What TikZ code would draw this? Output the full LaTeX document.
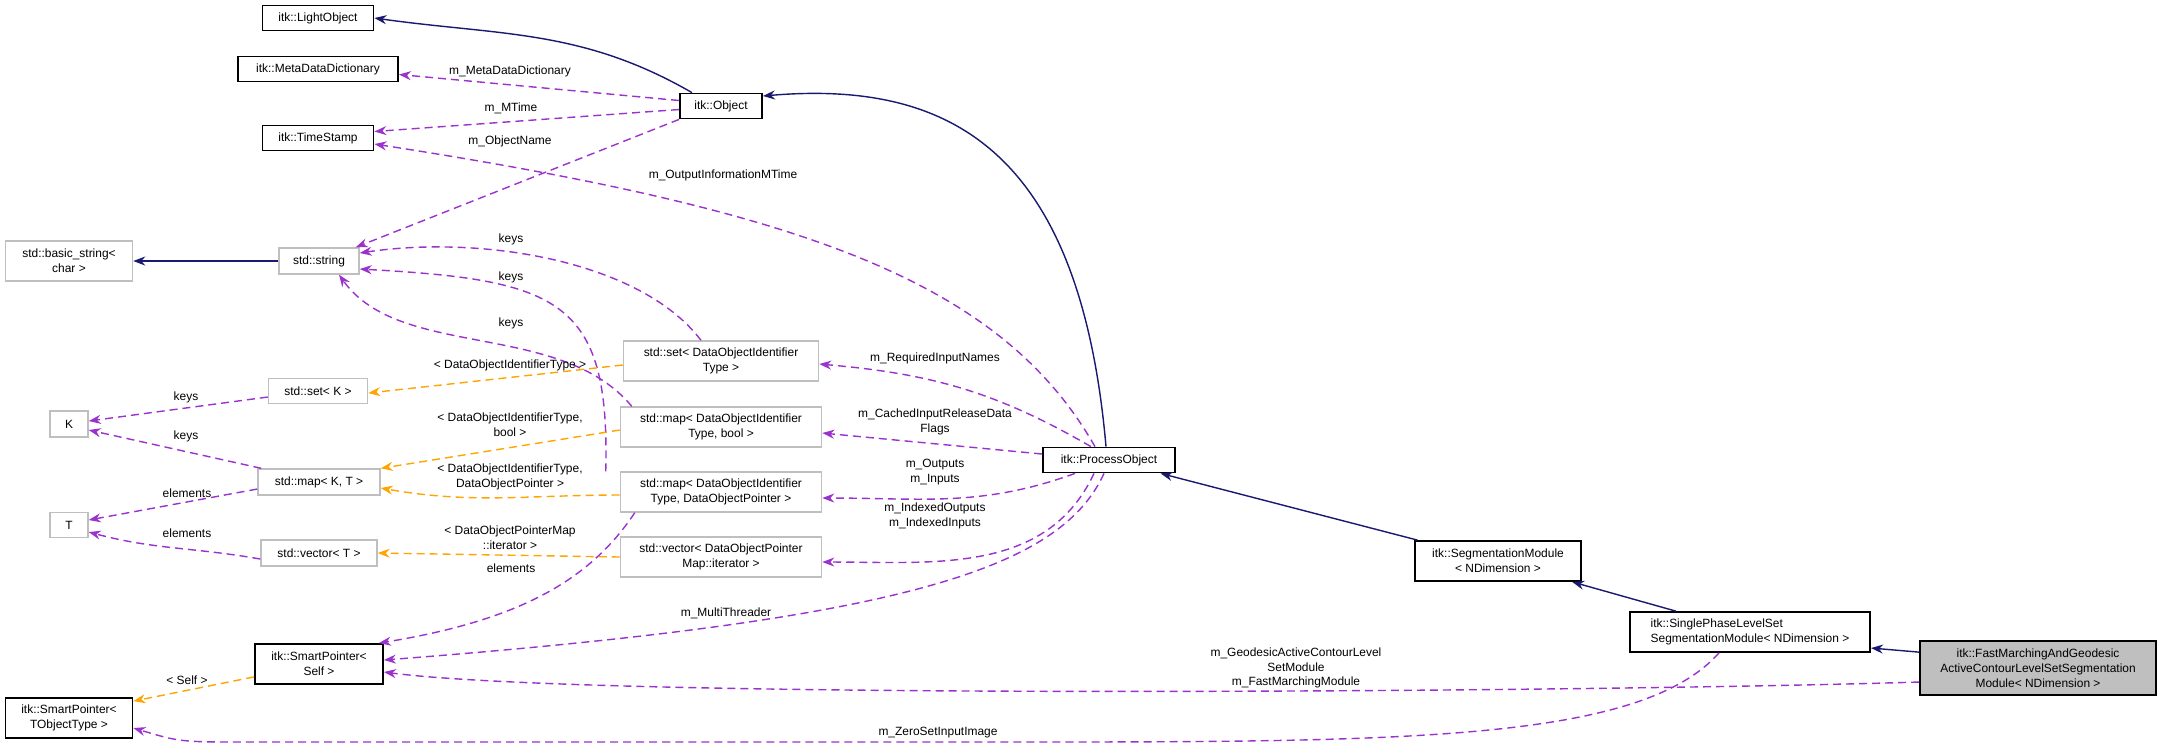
\documentclass[tikz,border=0pt]{standalone}
\usepackage{fontspec}
\setmainfont{Liberation Sans}
\usetikzlibrary{arrows.meta}
\definecolor{inhcol}{HTML}{191970}
\definecolor{usecol}{HTML}{9A32CD}
\definecolor{tplcol}{HTML}{FFA500}
\definecolor{extcol}{HTML}{BFBFBF}
\tikzset{
  box/.style={rectangle,inner sep=0pt,align=center,font=\fontsize{3.4}{4.2}\selectfont},
  cls/.style={box,draw=black,line width=0.5pt,fill=white},
  ext/.style={box,draw=extcol,line width=0.4pt,fill=white},
  cur/.style={box,draw=black,line width=0.5pt,fill=extcol},
  lbl/.style={align=center,inner sep=0pt,font=\fontsize{3.4}{4.2}\selectfont},
  tip/.style={-{Stealth[length=0.12cm,width=0.09cm]}},
  inh/.style={tip,draw=inhcol,line width=0.4pt},
  use/.style={tip,draw=usecol,line width=0.4pt,dash pattern=on 0.08cm off 0.05cm},
  tpl/.style={tip,draw=tplcol,line width=0.4pt,dash pattern=on 0.08cm off 0.05cm},
}
\begin{document}
\begin{tikzpicture}[x=0.01cm,y=-0.01cm]
  \useasboundingbox (0,0) rectangle (2161,747);
  % classes
  \node (light) at (318,18) [cls,minimum width=1.11cm,minimum height=0.25cm] {itk::LightObject};
  \node (meta) at (318,69) [cls,minimum width=1.6cm,minimum height=0.25cm] {itk::MetaDataDictionary};
  \node (ts) at (318,138) [cls,minimum width=1.11cm,minimum height=0.25cm] {itk::TimeStamp};
  \node (obj) at (721,106) [cls,minimum width=0.82cm,minimum height=0.25cm] {itk::Object};
  \node (basic) at (69,261) [ext,minimum width=1.27cm,minimum height=0.4cm] {std::basic\_string\textless\\char \textgreater};
  \node (str) at (319,261) [ext,minimum width=0.8cm,minimum height=0.26cm] {std::string};
  \node (setd) at (721,361) [ext,minimum width=1.95cm,minimum height=0.4cm] {std::set\textless{} DataObjectIdentifier\\Type \textgreater};
  \node (setk) at (318,391) [ext,minimum width=0.99cm,minimum height=0.25cm] {std::set\textless{} K \textgreater};
  \node (k) at (69,424) [ext,minimum width=0.38cm,minimum height=0.26cm] {K};
  \node (mapb) at (721,427) [ext,minimum width=2.01cm,minimum height=0.4cm] {std::map\textless{} DataObjectIdentifier\\Type, bool \textgreater};
  \node (mapk) at (319,482) [ext,minimum width=1.22cm,minimum height=0.26cm] {std::map\textless{} K, T \textgreater};
  \node (mapd) at (721,492) [ext,minimum width=2.01cm,minimum height=0.4cm] {std::map\textless{} DataObjectIdentifier\\Type, DataObjectPointer \textgreater};
  \node (t) at (69,525) [ext,minimum width=0.38cm,minimum height=0.25cm] {T};
  \node (vect) at (319,553) [ext,minimum width=1.16cm,minimum height=0.26cm] {std::vector\textless{} T \textgreater};
  \node (vecd) at (721,557) [ext,minimum width=2.01cm,minimum height=0.4cm] {std::vector\textless{} DataObjectPointer\\Map::iterator \textgreater};
  \node (proc) at (1109,460) [cls,minimum width=1.32cm,minimum height=0.25cm] {itk::ProcessObject};
  \node (spself) at (319,664) [cls,minimum width=1.28cm,minimum height=0.4cm] {itk::SmartPointer\textless\\Self \textgreater};
  \node (tobj) at (69,718) [cls,minimum width=1.27cm,minimum height=0.4cm] {itk::SmartPointer\textless\\TObjectType \textgreater};
  \node (seg) at (1498,561) [cls,minimum width=1.66cm,minimum height=0.4cm] {itk::SegmentationModule\\\textless{} NDimension \textgreater};
  \node (single) at (1750,632) [cls,minimum width=2.4cm,minimum height=0.4cm,align=left] {itk::SinglePhaseLevelSet\\SegmentationModule\textless{} NDimension \textgreater};
  \node (fm) at (2038,668) [cur,minimum width=2.36cm,minimum height=0.54cm] {itk::FastMarchingAndGeodesic\\ActiveContourLevelSetSegmentation\\Module\textless{} NDimension \textgreater};
  % inheritance
  \draw [inh] ([xshift=-0.29cm]obj.north) to[out=150,in=-8] (light.east);
  \draw [inh] ([xshift=-0.03cm]proc.north) .. controls (1080,150) and (950,80) .. ([yshift=0.1cm]obj.east);
  \draw [inh] (seg) -- (proc);
  \draw [inh] (single) -- (seg);
  \draw [inh] ([yshift=-0.12cm]fm.north west) -- ([yshift=-0.16cm]single.east);
  \draw [inh] (str) -- (basic);
  % members
  \draw [use] ([yshift=0.055cm]obj.west) -- ([yshift=-0.055cm]meta.east);
  \draw [use] ([yshift=-0.035cm]obj.west) -- ([yshift=0.065cm]ts.east);
  \draw [use] (obj.south west) -- ([xshift=-0.04cm]str.north east);
  \draw [use] ([xshift=-0.14cm]proc.north) .. controls (1000,280) and (800,210) .. ([yshift=-0.06cm]ts.east);
  \draw [use] ([xshift=-0.2cm]setd.north) .. controls (640,260) and (480,235) .. ([yshift=0.08cm]str.east);
  \draw [use] ([xshift=-0.14cm]mapd.north west) .. controls (610,300) and (560,280) .. ([yshift=-0.08cm]str.east);
  \draw [use] ([xshift=0.12cm]mapb.north west) .. controls (560,320) and (400,360) .. ([xshift=0.2cm]str.south);
  \draw [use] ([yshift=-0.06cm]setk.west) -- ([yshift=0.03cm]k.east);
  \draw [use] ([xshift=0.04cm]mapk.north west) -- ([yshift=-0.06cm]k.east);
  \draw [use] ([yshift=-0.07cm]mapk.west) -- ([yshift=0.05cm]t.east);
  \draw [use] ([yshift=-0.06cm]vect.west) to[out=170,in=-15] ([yshift=-0.07cm]t.east);
  \draw [use] ([xshift=0.15cm]mapd.south west) .. controls (590,580) and (520,620) .. ([xshift=-0.05cm]spself.north east);
  \draw [use] ([xshift=-0.18cm]proc.north) to[out=150,in=-5] ([yshift=-0.03cm]setd.east);
  \draw [use] ([yshift=0.06cm]proc.west) -- ([yshift=-0.06cm]mapb.east);
  \draw [use] ([xshift=-0.34cm]proc.south) to[out=200,in=0] ([yshift=-0.06cm]mapd.east);
  \draw [use] ([xshift=-0.15cm]proc.south) to[out=-115,in=0] ([yshift=-0.05cm]vecd.east);
  \draw [use] ([xshift=-0.05cm]proc.south) .. controls (1060,570) and (900,620) .. ([yshift=0.04cm]spself.east);
  \draw [use] ([yshift=-0.14cm]fm.west) .. controls (1600,692) and (600,700) .. ([yshift=-0.08cm]spself.east);
  \draw [use] ([xshift=-0.31cm]single.south) .. controls (1640,742) and (1400,742) .. (1000,742) -- (250,742) .. controls (180,742) .. ([yshift=-0.1cm]tobj.east);
  % template arguments
  \draw [tpl] ([yshift=-0.04cm]setd.west) -- ([yshift=-0.02cm]setk.east);
  \draw [tpl] ([yshift=-0.03cm]mapb.west) -- (mapk.north east);
  \draw [tpl] ([yshift=-0.03cm]mapd.west) to[out=180,in=-10] ([yshift=-0.06cm]mapk.east);
  \draw [tpl] (vecd.west) -- (vect.east);
  \draw [tpl] ([yshift=0.08cm]spself.south west) -- ([yshift=-0.04cm]tobj.north east);
  % labels
  \node (lmeta) at (510,71) [lbl] {m\_MetaDataDictionary};
  \node (lmtime) at (511,108) [lbl] {m\_MTime};
  \node (lname) at (510,141) [lbl] {m\_ObjectName};
  \node (loutinfo) at (723,175) [lbl] {m\_OutputInformationMTime};
  \node (lkeys1) at (511,239) [lbl] {keys};
  \node (lkeys2) at (511,277) [lbl] {keys};
  \node (lkeys3) at (511,323) [lbl] {keys};
  \node (ldoit) at (510,365) [lbl] {\textless{} DataObjectIdentifierType \textgreater};
  \node (lkeys4) at (186,397) [lbl] {keys};
  \node (lkeys5) at (186,436) [lbl] {keys};
  \node (lelem1) at (187,493) [lbl] {elements};
  \node (lelem2) at (187,533) [lbl] {elements};
  \node (ldoib) at (510,425) [lbl] {\textless{} DataObjectIdentifierType,\\bool \textgreater};
  \node (ldoip) at (510,477) [lbl] {\textless{} DataObjectIdentifierType,\\DataObjectPointer \textgreater};
  \node (lmapit) at (510,538) [lbl] {\textless{} DataObjectPointerMap\\::iterator \textgreater};
  \node (lelem3) at (511,568) [lbl] {elements};
  \node (lreq) at (935,358) [lbl] {m\_RequiredInputNames};
  \node (lcached) at (935,422) [lbl] {m\_CachedInputReleaseData\\Flags};
  \node (linout) at (935,472) [lbl] {m\_Outputs\\m\_Inputs};
  \node (lindexed) at (935,516) [lbl] {m\_IndexedOutputs\\m\_IndexedInputs};
  \node (lthreader) at (726,613) [lbl] {m\_MultiThreader};
  \node (lmodules) at (1296,668) [lbl] {m\_GeodesicActiveContourLevel\\SetModule\\m\_FastMarchingModule};
  \node (lself) at (187,680) [lbl] {\textless{} Self \textgreater};
  \node (lzero) at (938,733) [lbl] {m\_ZeroSetInputImage};
\end{tikzpicture}
\end{document}
